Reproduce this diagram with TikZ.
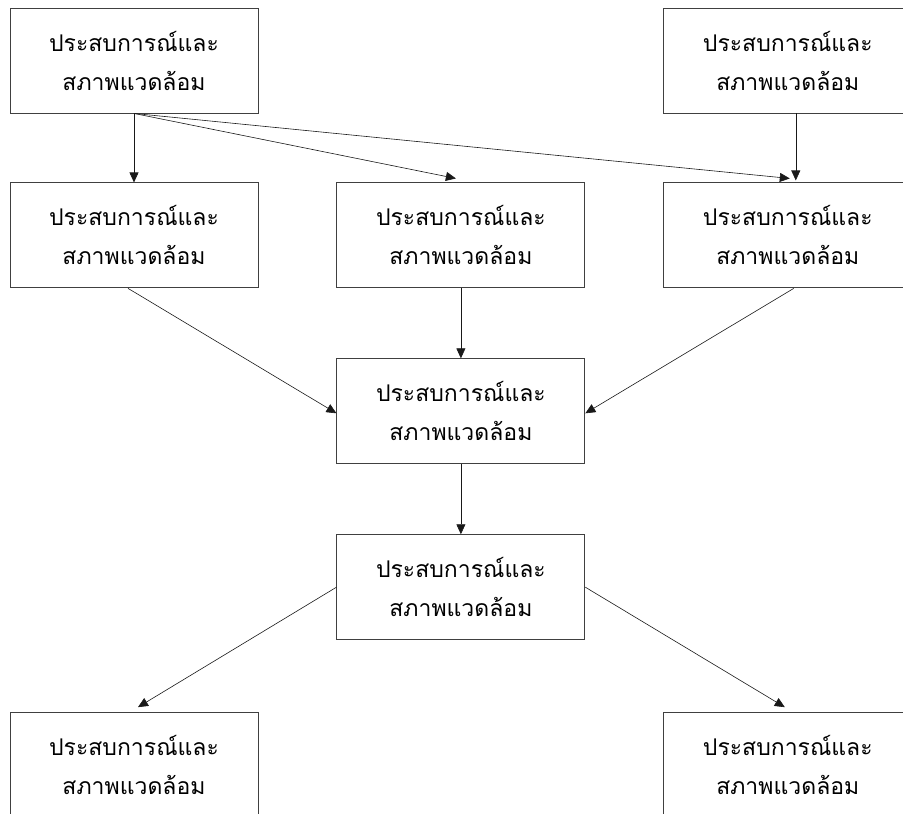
\documentclass[tikz,border=0pt]{standalone}
\usepackage{fontspec}
\newfontfamily\thaifont[Script=Thai]{Loma}
\usetikzlibrary{arrows.meta,positioning}

\begin{document}
\begin{tikzpicture}[
  x=1pt,y=1pt,
  node distance=70pt and 78pt,
  expbox/.style={draw=black!75,line width=0.9pt,align=center,minimum width=248pt,minimum height=105pt,inner sep=0pt,font=\thaifont\fontsize{23}{39}\selectfont},
  flow/.style={-{Triangle[length=10pt,width=9pt]},line width=0.6pt,black!90}
]
\useasboundingbox (-134,60.5) rectangle (769,-753.5);
\node[expbox] (n0) at (0,0) {ประสบการณ์และ\\สภาพแวดล้อม};
\node[expbox,below=69pt of n0] (n2) {ประสบการณ์และ\\สภาพแวดล้อม};
\node[expbox,right=of n2] (n3) {ประสบการณ์และ\\สภาพแวดล้อม};
\node[expbox,right=of n3] (n4) {ประสบการณ์และ\\สภาพแวดล้อม};
\node[expbox,above=69pt of n4] (n1) {ประสบการณ์และ\\สภาพแวดล้อม};
\node[expbox,below=of n3] (n5) {ประสบการณ์และ\\สภาพแวดล้อม};
\node[expbox,below=of n5] (n6) {ประสบการณ์และ\\สภาพแวดล้อม};
\node[expbox,below=72pt of n6.south -| n2] (n7) {ประสบการณ์และ\\สภาพแวดล้อม};
\node[expbox,below=72pt of n6.south -| n4] (n8) {ประสบการณ์และ\\สภาพแวดล้อม};
% top row
\draw[flow] (n0.south) -- (n2.north);
\draw[flow] (n0.south) -- ([xshift=-5pt,yshift=4pt]n3.north);
\draw[flow] (n0.south) -- ([xshift=2pt,yshift=4pt]n4.north);
\draw[flow] ([xshift=8pt]n1.south) -- ([xshift=8pt,yshift=2pt]n4.north);
% middle
\draw[flow] ([xshift=-6pt]n2.south) -- ([yshift=-2pt]n5.west);
\draw[flow] (n3.south) -- (n5.north);
\draw[flow] ([xshift=6pt]n4.south) -- ([yshift=-2pt]n5.east);
\draw[flow] (n5.south) -- (n6.north);
% bottom
\draw[flow] (n6.west) -- ([xshift=4pt,yshift=5pt]n7.north);
\draw[flow] (n6.east) -- ([xshift=-3pt,yshift=5pt]n8.north);
\end{tikzpicture}
\end{document}
